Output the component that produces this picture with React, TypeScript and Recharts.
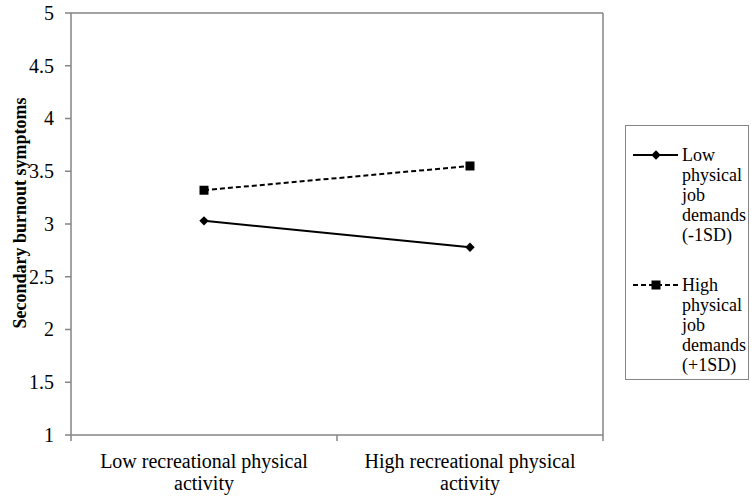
import React from 'react';
import { LineChart, Line, XAxis, YAxis, Legend, ReferenceLine } from 'recharts';

const categories = ['Low recreational physical activity', 'High recreational physical activity'];
const categoryLines = [
  ['Low recreational physical', 'activity'],
  ['High recreational physical', 'activity'],
];
const lowDemands = [3.03, 2.78];
const highDemands = [3.32, 3.55];
const yTicks = [1, 1.5, 2, 2.5, 3, 3.5, 4, 4.5, 5];
const xTicks = [-0.5, 0, 0.5, 1, 1.5];
const seriesNames = ['Low physical job demands (-1SD)', 'High physical job demands (+1SD)'];
const legendLines = [
  ['Low', 'physical', 'job', 'demands', '(-1SD)'],
  ['High', 'physical', 'job', 'demands', '(+1SD)'],
];
const yAxisTitle = 'Secondary burnout symptoms';

const data = categories.map((c, i) => ({
  idx: i,
  cat: c,
  low: lowDemands[i],
  high: highDemands[i],
}));

const FONT = "'Liberation Serif', 'Times New Roman', Times, serif";
const AXIS = '#858585';

const XTick = (props: any) => {
  const { x, y, payload } = props;
  const v = payload.value;
  if (Number.isInteger(v)) {
    const lines = categoryLines[v] || [];
    return (
      <text x={x} y={y} textAnchor="middle" fontFamily={FONT} fontSize={20} fill="#000">
        {lines.map((l, k) => (
          <tspan key={k} x={x} y={y + 33 + k * 22}>
            {l}
          </tspan>
        ))}
      </text>
    );
  }
  return <line x1={x} y1={y} x2={x} y2={y + 6} stroke={AXIS} strokeWidth={1.5} />;
};

const YTick = (props: any) => {
  const { x, y, payload, textAnchor } = props;
  return (
    <text
      x={x}
      y={y}
      dy="0.34em"
      textAnchor={textAnchor || 'end'}
      fontFamily={FONT}
      fontSize={20}
      fill="#000"
    >
      {payload.value}
    </text>
  );
};

const Diamond = (props: any) => {
  const { cx, cy } = props;
  if (cx == null || cy == null) return null;
  const r = 4.7;
  return <path d={`M${cx},${cy - r}L${cx + r},${cy}L${cx},${cy + r}L${cx - r},${cy}Z`} fill="#000" />;
};

const Square = (props: any) => {
  const { cx, cy } = props;
  if (cx == null || cy == null) return null;
  const s = 9;
  return <rect x={cx - s / 2} y={cy - s / 2} width={s} height={s} fill="#000" />;
};

const YTitle = (props: any) => {
  const vb = props.viewBox || { x: 11, y: 13, width: 60, height: 422 };
  const cx = vb.x + 15;
  const cy = vb.y + vb.height / 2 - 11;
  return (
    <text
      x={cx}
      y={cy}
      transform={`rotate(-90 ${cx} ${cy})`}
      textAnchor="middle"
      fontFamily={FONT}
      fontWeight="bold"
      fontSize={18}
      fill="#000"
    >
      {yAxisTitle}
    </text>
  );
};

const LegendBox = () => {
  const entryTops = [20, 150];
  return (
    <div
      style={{
        position: 'relative',
        width: 124,
        height: 255,
        boxSizing: 'border-box',
        border: `1px solid ${AXIS}`,
        background: '#fff',
        fontFamily: FONT,
        fontSize: 18,
        lineHeight: '20px',
        color: '#000',
      }}
    >
      {legendLines.map((lines, i) => {
        const top = entryTops[i];
        const cy = top + 10;
        return (
          <React.Fragment key={seriesNames[i]}>
            <svg
              width={50}
              height={14}
              style={{ position: 'absolute', left: 5, top: cy - 7 - 1 }}
            >
              <line
                x1={2}
                y1={7}
                x2={47}
                y2={7}
                stroke="#000"
                strokeWidth={2}
                strokeDasharray={i === 1 ? '5 3' : undefined}
              />
              {i === 0 ? <Diamond cx={25} cy={7} /> : <Square cx={25} cy={7} />}
            </svg>
            <div style={{ position: 'absolute', left: 56, top: top - 1 }}>
              {lines.map((l) => (
                <div key={l}>{l}</div>
              ))}
            </div>
          </React.Fragment>
        );
      })}
    </div>
  );
};

export default function App() {
  return (
    <div style={{ position: 'absolute', left: 0, top: 0, background: '#fff' }}>
      <LineChart
        width={751}
        height={496}
        data={data}
        margin={{ top: 13, right: 148, bottom: 0, left: 11 }}
      >
        <XAxis
          dataKey="idx"
          type="number"
          domain={[-0.5, 1.5]}
          ticks={xTicks}
          interval={0}
          tickSize={0}
          tickMargin={0}
          tickLine={false}
          height={61}
          axisLine={{ stroke: AXIS, strokeWidth: 1.5 }}
          tick={<XTick />}
        />
        <YAxis
          type="number"
          domain={[1, 5]}
          ticks={yTicks}
          width={60}
          interval={0}
          tickSize={6}
          tickMargin={11}
          axisLine={{ stroke: AXIS, strokeWidth: 1.5 }}
          tickLine={{ stroke: AXIS, strokeWidth: 1.5 }}
          tick={<YTick />}
          label={<YTitle />}
        />
        <ReferenceLine y={5} stroke={AXIS} strokeWidth={1.5} />
        <ReferenceLine x={1.5} stroke={AXIS} strokeWidth={1.5} />
        <Line
          dataKey="low"
          name={seriesNames[0]}
          stroke="#000"
          strokeWidth={2}
          dot={<Diamond />}
          activeDot={false}
          isAnimationActive={false}
        />
        <Line
          dataKey="high"
          name={seriesNames[1]}
          stroke="#000"
          strokeWidth={2}
          strokeDasharray="5 3"
          dot={<Square />}
          activeDot={false}
          isAnimationActive={false}
        />
        <Legend
          layout="vertical"
          align="center"
          verticalAlign="middle"
          content={<LegendBox />}
          wrapperStyle={{ position: 'absolute', left: 625, top: 125, width: 124, height: 255 }}
        />
      </LineChart>
    </div>
  );
}
